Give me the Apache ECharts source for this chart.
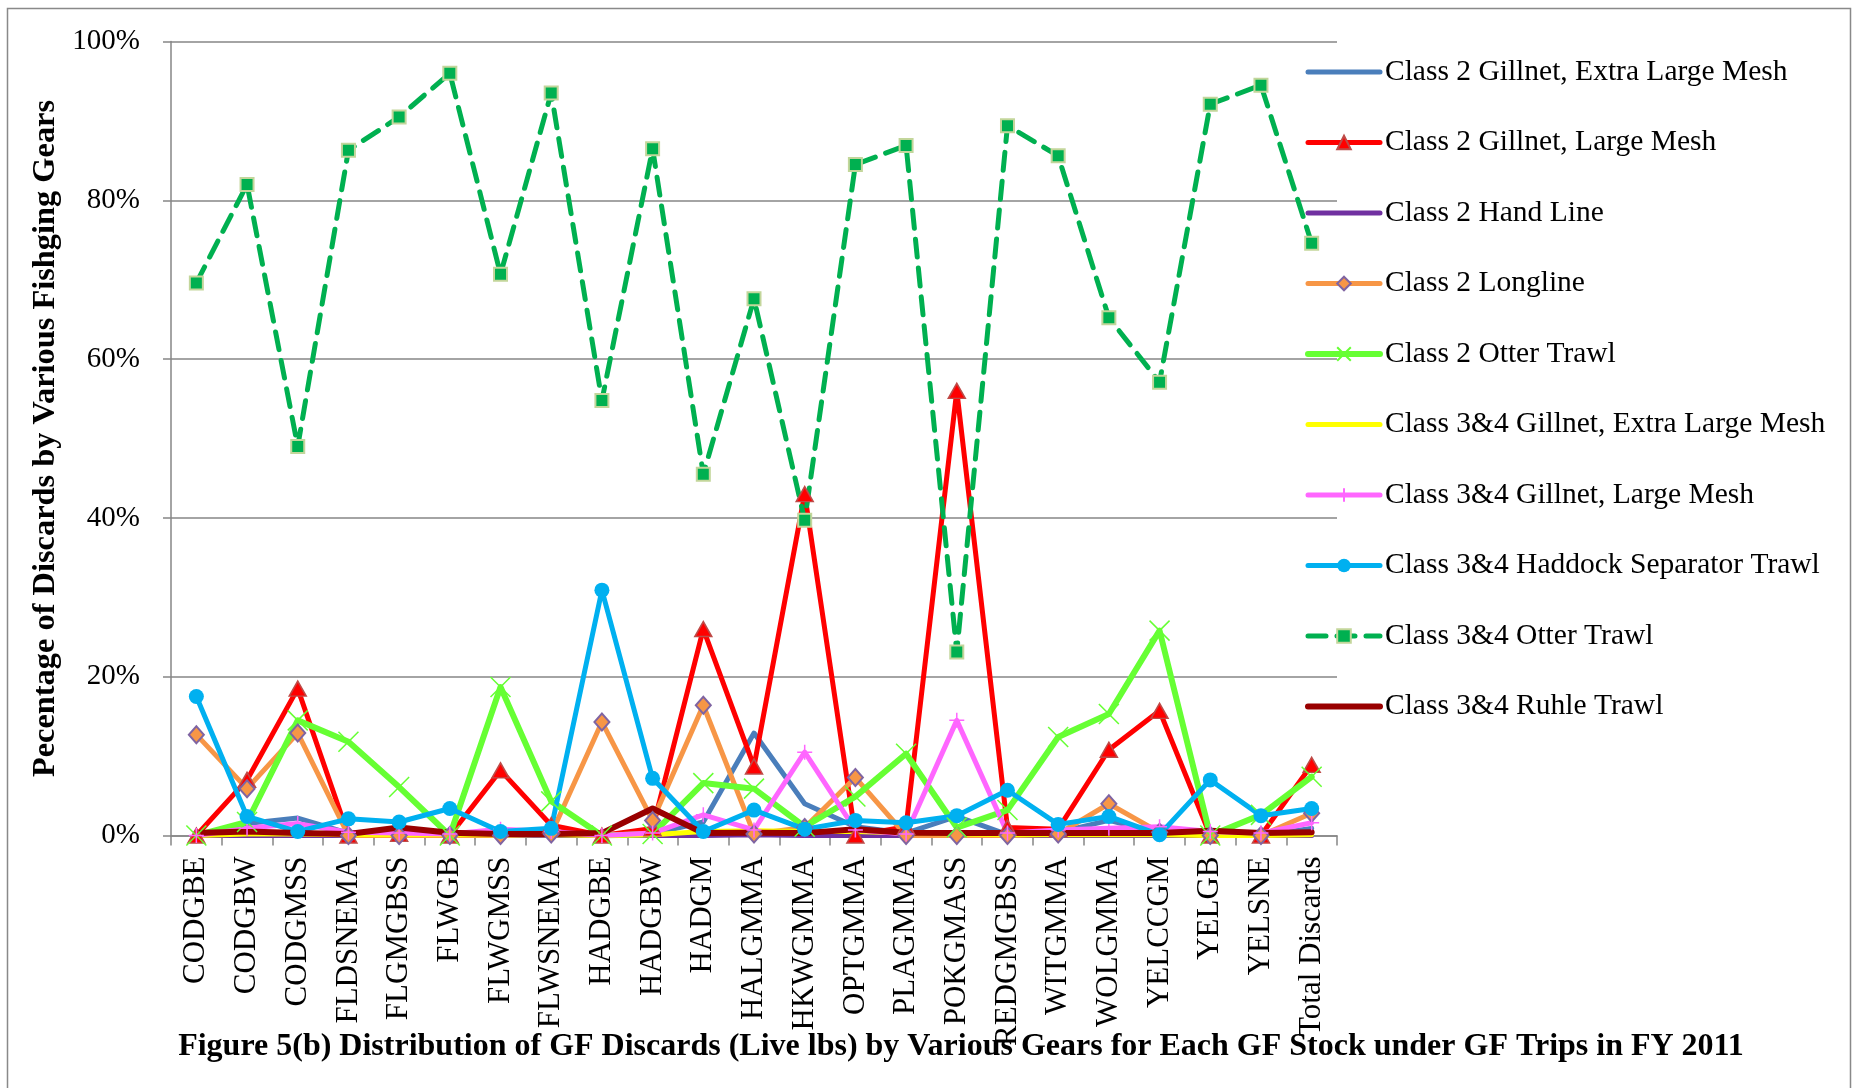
<!DOCTYPE html>
<html>
<head>
<meta charset="utf-8">
<script src="https://cdn.jsdelivr.net/npm/echarts@6/dist/echarts.min.js"></script>
<style>
html,body{margin:0;padding:0;background:#fff;}
#chart{width:1853px;height:1088px;}
</style>
</head>
<body>
<div id="chart"></div>
<script>
var categories = ['CODGBE','CODGBW','CODGMSS','FLDSNEMA','FLGMGBSS','FLWGB','FLWGMSS','FLWSNEMA','HADGBE','HADGBW','HADGM','HALGMMA','HKWGMMA','OPTGMMA','PLAGMMA','POKGMASS','REDGMGBSS','WITGMMA','WOLGMMA','YELCCGM','YELGB','YELSNE','Total Discards'];
var yTicks = [0, 20, 40, 60, 80, 100];

var c2GillnetXL    = [0, 1.5, 2.2, 0.3, 0.2, 0.1, 0.2, 0.2, 0, 0.2, 1.7, 12.9, 4.0, 1.1, 0.3, 2.4, 0.1, 0.4, 1.9, 0.3, 0, 0, 0.9];
var c2GillnetLarge = [0, 7.0, 18.5, 0, 0.2, 0, 8.2, 1.3, 0, 0.9, 26.0, 8.7, 43.0, 0, 1.1, 56.0, 1.0, 0.8, 10.8, 15.7, 0, 0, 8.9];
var c2HandLine     = [0, 0, 0, 0, 0, 0, 0, 0, 0, 0, 0, 0.1, 0, 0, 0, 0.1, 0, 0, 0, 0, 0, 0, 0];
var c2Longline     = [12.7, 5.9, 12.9, 0, 0, 0, 0, 0.2, 14.3, 1.9, 16.4, 0.2, 1.0, 7.3, 0, 0, 0, 0.2, 4.0, 0.4, 0, 0, 2.8];
var c2OtterTrawl   = [0, 1.7, 14.5, 11.8, 6.1, 0, 18.7, 4.3, 0, 0.2, 6.6, 5.9, 1.1, 4.9, 10.3, 1.0, 3.2, 12.4, 15.3, 25.8, 0, 2.6, 7.4];
var c34GillnetXL   = [0, 0.2, 0.2, 0.1, 0.1, 0.1, 0.1, 0.1, 0, 0.1, 0.5, 0.6, 0.5, 0.5, 0.3, 0.2, 0.1, 0.1, 0.1, 0.1, 0, 0, 0.1];
var c34GillnetLarge= [0, 0.9, 1.5, 0.4, 0.3, 0.2, 0.8, 0.5, 0, 0.3, 2.6, 0.7, 10.5, 0.7, 0.2, 14.5, 0.3, 0.7, 0.9, 1.1, 0.5, 0.3, 1.6];
var c34HaddockSep  = [17.5, 2.4, 0.5, 2.1, 1.7, 3.4, 0.5, 0.9, 30.9, 7.2, 0.5, 3.2, 0.8, 1.9, 1.6, 2.5, 5.7, 1.4, 2.4, 0.1, 7.0, 2.5, 3.4];
var c34OtterTrawl  = [69.6, 82.0, 49.0, 86.3, 90.5, 96.0, 70.7, 93.5, 54.8, 86.5, 45.5, 67.6, 39.7, 84.5, 86.9, 23.1, 89.4, 85.6, 65.2, 57.1, 92.1, 94.5, 74.6];
var c34Ruhle       = [0.3, 0.5, 0.3, 0.2, 1.0, 0.35, 0.2, 0.2, 0.3, 3.4, 0.3, 0.35, 0.3, 0.8, 0.35, 0.3, 0.3, 0.3, 0.3, 0.3, 0.6, 0.3, 0.4];

var FONT = "'Liberation Serif', 'Times New Roman', serif";
var GRID = '#868686';

var legendItems = [];
function mk(name, data, color, opts) {
  opts = opts || {};
  var w = opts.width || 5;
  var li = { name: name, lineStyle: { width: w } };
  if (!opts.symbol) li.itemStyle = { opacity: 0 };
  legendItems.push(li);
  return {
    name: name,
    type: 'line',
    data: data,
    symbol: opts.symbol || 'none',
    showSymbol: !!opts.symbol,
    symbolSize: opts.symbolSize || 10,
    lineStyle: { color: color, width: w, type: opts.dash || 'solid', cap: 'round', join: 'round' },
    itemStyle: { color: opts.fill || color, borderColor: opts.border || color, borderWidth: opts.borderWidth || 0 },
    emphasis: { disabled: true },
    animation: false
  };
}

var series = [
  mk('Class 2 Gillnet, Extra Large Mesh', c2GillnetXL, '#4a7ebb'),
  mk('Class 2 Gillnet, Large Mesh', c2GillnetLarge, '#ff0000', { symbol: 'triangle', symbolSize: [17, 15], border: '#be4b48', borderWidth: 1.5 }),
  mk('Class 2 Hand Line', c2HandLine, '#7030a0'),
  mk('Class 2 Longline', c2Longline, '#f79646', { symbol: 'diamond', symbolSize: [15, 17], border: '#7f64a2', borderWidth: 2 }),
  mk('Class 2 Otter Trawl', c2OtterTrawl, '#66ff33', { symbol: 'path://M0,0L10,10M10,0L0,10', symbolSize: 20, border: '#66ff33', borderWidth: 1.5, width: 6 }),
  mk('Class 3&4 Gillnet, Extra Large Mesh', c34GillnetXL, '#ffff00'),
  mk('Class 3&4 Gillnet, Large Mesh', c34GillnetLarge, '#ff66ff', { symbol: 'path://M5,0L5,10M0,5L10,5', symbolSize: 15, border: '#ff66ff', borderWidth: 1.5 }),
  mk('Class 3&4 Haddock Separator Trawl', c34HaddockSep, '#00b0f0', { symbol: 'circle', symbolSize: 15 }),
  mk('Class 3&4 Otter Trawl', c34OtterTrawl, '#00b050', { symbol: 'rect', symbolSize: 13, border: '#c3d69b', borderWidth: 2, dash: [18, 11], width: 5 }),
  mk('Class 3&4 Ruhle Trawl', c34Ruhle, '#990000', { width: 6 })
];

var chart = echarts.init(document.getElementById('chart'));
chart.setOption({
  backgroundColor: '#fff',
  animation: false,
  grid: { left: 171, top: 41.5, width: 1166, height: 794, containLabel: false },
  graphic: [
    { type: 'rect', shape: { x: 7.5, y: 8.5, width: 1843, height: 1100 }, style: { fill: 'none', stroke: '#898989', lineWidth: 1.5 }, z: -1 },
    { type: 'text', x: 961, y: 1047, style: { text: 'Figure 5(b) Distribution of GF Discards (Live lbs) by Various Gears for Each GF Stock under GF Trips in FY 2011', font: "bold 32px 'Liberation Serif'", fill: '#000', textAlign: 'center', textVerticalAlign: 'middle' }, z: 10 }
  ],
  legend: {
    orient: 'vertical',
    left: 1300,
    top: 52,
    itemWidth: 72,
    itemHeight: 17,
    itemGap: 40.5,
    textStyle: { fontFamily: FONT, fontSize: 29.5, color: '#000', lineHeight: 30 },
    data: legendItems,
    selectedMode: false
  },
  xAxis: {
    type: 'category',
    data: categories,
    boundaryGap: true,
    axisLine: { lineStyle: { color: GRID, width: 1.5 } },
    axisTick: { show: true, length: 10, lineStyle: { color: GRID, width: 1.5 } },
    axisLabel: { rotate: 90, margin: 21, fontFamily: FONT, fontSize: 31, color: '#000', interval: 0 }
  },
  yAxis: {
    type: 'value',
    min: 0, max: 100, interval: 20,
    name: 'Pecentage of Discards by Various Fishging Gears',
    nameLocation: 'middle',
    nameGap: 107,
    nameRotate: 90,
    nameTextStyle: { fontFamily: FONT, fontSize: 32.4, fontWeight: 'bold', color: '#000' },
    axisLine: { show: true, lineStyle: { color: GRID, width: 1.5 } },
    axisTick: { show: true, length: 8, lineStyle: { color: GRID, width: 1.5 } },
    axisLabel: { margin: 31, fontFamily: FONT, fontSize: 29, color: '#000', formatter: function (v) { return yTicks.indexOf(v) >= 0 ? v + '%' : ''; } },
    splitLine: { show: true, lineStyle: { color: GRID, width: 1.5 } }
  },
  series: series
});
</script>
</body>
</html>
